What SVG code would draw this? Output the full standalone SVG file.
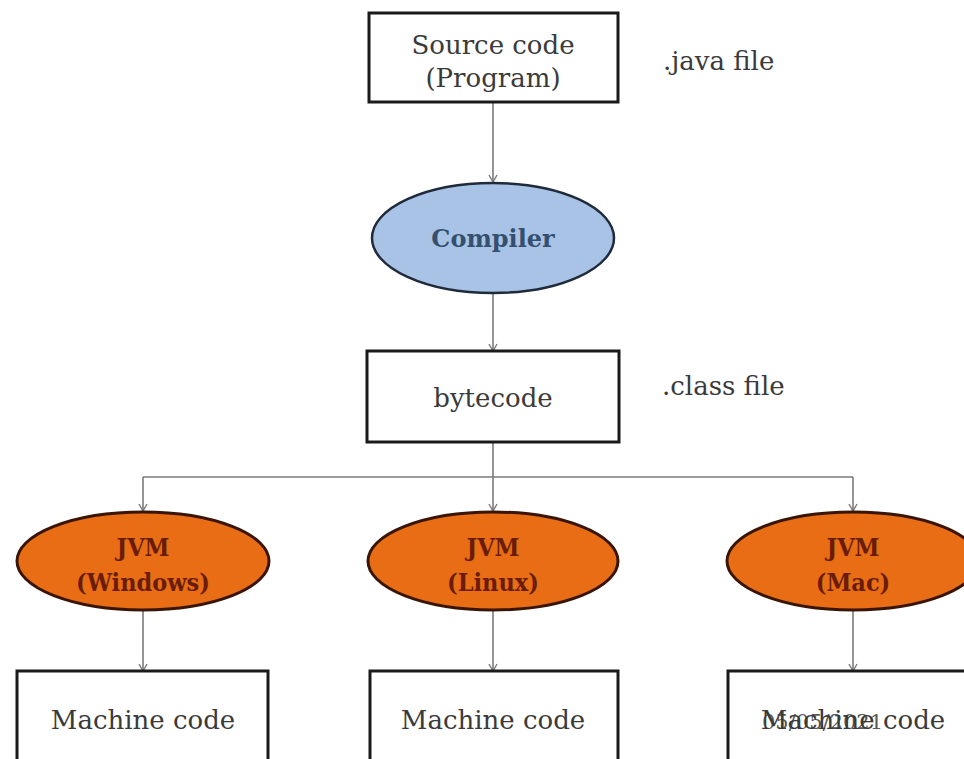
<svg xmlns="http://www.w3.org/2000/svg" width="964" height="759" viewBox="0 0 964 759">
  <defs>
    <marker id="arr" viewBox="0 0 10 10" refX="9" refY="5" markerWidth="10" markerHeight="10" markerUnits="userSpaceOnUse" orient="auto">
      <path d="M2,1 L9,5 L2,9" fill="none" stroke="#7a7a7a" stroke-width="1.4"/>
    </marker>
    <style>
      .box { fill: #ffffff; stroke: #1a1a1a; stroke-width: 3; }
      .t { font-family: "DejaVu Serif", "Liberation Serif", serif; font-size: 26px; fill: #3a3a3a; text-anchor: middle; }
      .side { font-family: "DejaVu Serif", "Liberation Serif", serif; font-size: 26px; fill: #3a3a3a; }
      .date { font-family: "DejaVu Serif", "Liberation Serif", serif; font-size: 21px; fill: #3a3a3a; fill-opacity: 0.85; }
      .comp { fill: #a9c3e6; stroke: #1f2a3a; stroke-width: 2.5; }
      .ct { font-family: "DejaVu Serif", "Liberation Serif", serif; font-size: 24px; font-weight: bold; fill: #34506e; text-anchor: middle; }
      .jvm { fill: #e86d14; stroke: #3a1505; stroke-width: 3; }
      .jt { font-family: "DejaVu Serif", "Liberation Serif", serif; font-size: 25px; font-weight: bold; font-stretch: condensed; fill: #6a1c06; text-anchor: middle; }
      .conn { fill: none; stroke: #7a7a7a; stroke-width: 1.6; }
    </style>
  </defs>
  <rect width="964" height="759" fill="#ffffff"/>

  <g id="connectors">
    <path class="conn" d="M493,103 L493,182" marker-end="url(#arr)"/>
    <path class="conn" d="M493,293 L493,351" marker-end="url(#arr)"/>
    <path class="conn" d="M493,442 L493,511" marker-end="url(#arr)"/>
    <path class="conn" d="M143,477 L853,477"/>
    <path class="conn" d="M143,477 L143,511" marker-end="url(#arr)"/>
    <path class="conn" d="M853,477 L853,511" marker-end="url(#arr)"/>
    <path class="conn" d="M143,610 L143,671" marker-end="url(#arr)"/>
    <path class="conn" d="M493,610 L493,671" marker-end="url(#arr)"/>
    <path class="conn" d="M853,610 L853,671" marker-end="url(#arr)"/>
  </g>

  <g id="source">
    <rect class="box" x="369" y="13" width="249" height="89"/>
    <text class="t" x="493" y="54">Source code</text>
    <text class="t" x="493" y="87">(Program)</text>
  </g>
  <g id="java-label">
    <text class="side" x="663" y="70">.java file</text>
  </g>

  <g id="compiler">
    <ellipse class="comp" cx="493" cy="238" rx="121" ry="55"/>
    <text class="ct" x="493" y="247">Compiler</text>
  </g>

  <g id="bytecode">
    <rect class="box" x="367" y="351" width="252" height="91"/>
    <text class="t" x="493" y="407">bytecode</text>
  </g>
  <g id="class-label">
    <text class="side" x="662" y="395">.class file</text>
  </g>

  <g id="jvm-windows">
    <ellipse class="jvm" cx="143" cy="561" rx="126" ry="49"/>
    <text class="jt" x="143" y="556">JVM</text>
    <text class="jt" x="143" y="591">(Windows)</text>
  </g>
  <g id="jvm-linux">
    <ellipse class="jvm" cx="493" cy="561" rx="125" ry="49"/>
    <text class="jt" x="493" y="556">JVM</text>
    <text class="jt" x="493" y="591">(Linux)</text>
  </g>
  <g id="jvm-mac">
    <ellipse class="jvm" cx="853" cy="561" rx="126" ry="49"/>
    <text class="jt" x="853" y="556">JVM</text>
    <text class="jt" x="853" y="591">(Mac)</text>
  </g>

  <g id="machine-1">
    <rect class="box" x="17" y="671" width="251" height="100"/>
    <text class="t" x="143" y="729">Machine code</text>
  </g>
  <g id="machine-2">
    <rect class="box" x="370" y="671" width="248" height="100"/>
    <text class="t" x="493" y="729">Machine code</text>
  </g>
  <g id="machine-3">
    <rect class="box" x="728" y="671" width="260" height="100"/>
    <text class="t" x="853" y="729">Machine code</text>
    <text class="date" x="762" y="729">05/05/2021</text>
  </g>
</svg>
